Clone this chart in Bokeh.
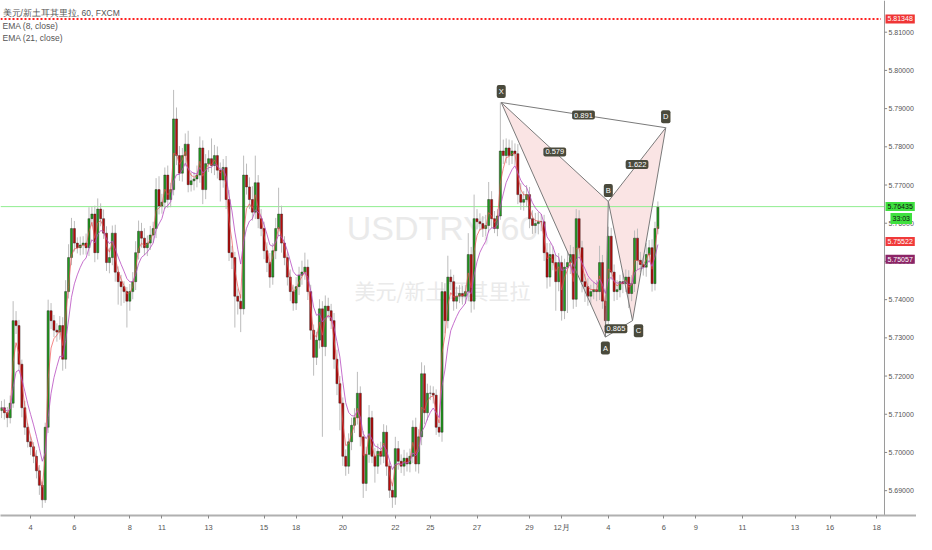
from bokeh.plotting import figure
from bokeh.models import ColumnDataSource, Label, FixedTicker, Range1d
from bokeh.core.properties import value
from bokeh.embed import file_html
from bokeh.resources import INLINE

# ---------------- data ----------------
symbol_title = "美元/新土耳其里拉, 60, FXCM"
ema_titles = ["EMA (8, close)", "EMA (21, close)"]
watermark_main = "USDTRY, 60"
watermark_sub = "美元/新土耳其里拉"

first_open = 5.7110
closes = [
    5.7117, 5.7104, 5.7091, 5.7129, 5.7345, 5.7332, 5.7231, 5.7117, 5.7066, 5.7028, 5.7015, 5.6990, 5.6952, 5.6914, 5.6876,
    5.7066, 5.7371, 5.7345, 5.7320, 5.7315, 5.7332, 5.7244, 5.7421, 5.7510, 5.7586, 5.7548, 5.7536, 5.7543, 5.7548, 5.7536,
    5.7612, 5.7624, 5.7523, 5.7637, 5.7612, 5.7574, 5.7497, 5.7510, 5.7574, 5.7472, 5.7447, 5.7434, 5.7421, 5.7396, 5.7421,
    5.7447, 5.7523, 5.7579, 5.7561, 5.7536, 5.7548, 5.7569, 5.7586, 5.7688, 5.7645, 5.7655, 5.7726, 5.7662, 5.7688, 5.7873,
    5.7777, 5.7731, 5.7777, 5.7807, 5.7701, 5.7711, 5.7716, 5.7726, 5.7797, 5.7688, 5.7756, 5.7769, 5.7751, 5.7777, 5.7739,
    5.7713, 5.7746, 5.7662, 5.7523, 5.7510, 5.7409, 5.7396, 5.7376, 5.7726, 5.7695, 5.7662, 5.7629, 5.7706, 5.7612, 5.7586,
    5.7528, 5.7497, 5.7459, 5.7528, 5.7586, 5.7624, 5.7548, 5.7510, 5.7459, 5.7421, 5.7391, 5.7434, 5.7464, 5.7472, 5.7485,
    5.7421, 5.7320, 5.7249, 5.7294, 5.7376, 5.7277, 5.7383, 5.7371, 5.7345, 5.7244, 5.7180, 5.7129, 5.6990, 5.6964, 5.7028,
    5.7071, 5.7091, 5.7155, 5.7041, 5.6919, 5.6995, 5.7091, 5.6990, 5.6964, 5.7003, 5.6990, 5.7053, 5.6964, 5.6901, 5.6883,
    5.7010, 5.6977, 5.6964, 5.6985, 5.6970, 5.6990, 5.7066, 5.6970, 5.7041, 5.7206, 5.7104, 5.7155, 5.7155, 5.7150, 5.7066,
    5.7053, 5.7421, 5.7345, 5.7459, 5.7447, 5.7396, 5.7409, 5.7416, 5.7409, 5.7421, 5.7518, 5.7396, 5.7612, 5.7604, 5.7599,
    5.7586, 5.7594, 5.7662, 5.7612, 5.7586, 5.7619, 5.7789, 5.7777, 5.7797, 5.7777, 5.7789, 5.7782, 5.7675, 5.7655, 5.7662,
    5.7675, 5.7612, 5.7594, 5.7599, 5.7604, 5.7604, 5.7523, 5.7459, 5.7518, 5.7497, 5.7447, 5.7497, 5.7371, 5.7485, 5.7497,
    5.7518, 5.7401, 5.7612, 5.7536, 5.7447, 5.7434, 5.7409, 5.7421, 5.7426, 5.7421, 5.7497, 5.7396, 5.7345, 5.7566, 5.7472,
    5.7421, 5.7426, 5.7447, 5.7442, 5.7459, 5.7416, 5.7442, 5.7561, 5.7503, 5.7492, 5.7485, 5.7518, 5.7536, 5.7442, 5.7586, 5.7642,
]
upper_wick_pips = [
    18, 22, 15, 20, 51, 25, 15, 12, 18, 10, 14, 12, 16, 15, 10,
    12, 29, 20, 15, 18, 25, 22, 30, 35, 28, 20, 15, 22, 18, 25,
    30, 20, 22, 28, 15, 24, 18, 26, 20, 22, 15, 18, 14, 12, 20,
    25, 30, 28, 22, 26, 20, 24, 18, 30, 35, 22, 20, 25, 18, 76,
    30, 25, 20, 28, 35, 22, 18, 25, 30, 20, 25, 22, 53, 28, 24,
    20, 22, 30, 25, 18, 15, 20, 18, 51, 30, 25, 35, 71, 20, 25,
    18, 22, 25, 20, 28, 69, 22, 18, 15, 20, 18, 25, 22, 30, 38,
    20, 18, 15, 22, 25, 20, 28, 22, 18, 20, 25, 20, 15, 18, 22,
    20, 25, 56, 18, 15, 20, 33, 18, 22, 20, 25, 21, 18, 15, 20,
    31, 20, 18, 22, 15, 20, 18, 25, 20, 30, 22, 25, 20, 18, 15,
    20, 25, 22, 56, 20, 18, 25, 22, 20, 18, 56, 20, 63, 25, 22,
    20, 28, 46, 22, 20, 18, 127, 30, 25, 22, 28, 20, 25, 30, 22,
    25, 20, 22, 28, 25, 20, 18, 25, 30, 22, 20, 25, 18, 22, 30,
    25, 20, 25, 22, 18, 20, 22, 18, 20, 25, 44, 20, 18, 25, 22,
    20, 25, 18, 22, 20, 18, 22, 20, 25, 22, 18, 30, 20, 22, 18, 15,
]
lower_wick_pips = [
    20, 18, 25, 15, 12, 22, 18, 25, 20, 15, 22, 18, 20, 25, 21,
    8, 15, 22, 18, 25, 20, 30, 25, 18, 20, 22, 15, 20, 25, 18,
    22, 20, 25, 18, 20, 15, 22, 28, 20, 25, 60, 50, 30, 69, 25,
    20, 22, 18, 25, 20, 22, 18, 20, 25, 22, 20, 18, 22, 20, 15,
    25, 20, 22, 28, 20, 18, 25, 22, 20, 38, 25, 22, 20, 25, 22,
    56, 20, 25, 22, 30, 82, 35, 61, 15, 20, 25, 22, 18, 25, 20,
    22, 25, 28, 20, 22, 18, 25, 20, 22, 25, 20, 18, 22, 25, 20,
    22, 25, 48, 20, 22, 236, 25, 20, 22, 25, 30, 71, 25, 25, 20,
    22, 20, 18, 25, 38, 20, 22, 18, 43, 20, 22, 18, 25, 20, 28,
    20, 22, 18, 25, 20, 22, 18, 20, 25, 22, 30, 20, 18, 22, 20,
    12, 25, 33, 20, 22, 25, 20, 18, 22, 20, 25, 30, 22, 20, 18,
    22, 20, 18, 25, 12, 20, 10, 22, 20, 25, 22, 30, 25, 20, 22,
    20, 25, 22, 20, 28, 25, 22, 30, 25, 20, 76, 25, 26, 22, 120,
    30, 25, 20, 22, 28, 40, 25, 22, 20, 25, 22, 20, 25, 22, 20,
    25, 22, 20, 25, 22, 38, 20, 22, 25, 20, 22, 25, 20, 21, 18, 15,
]

price_ticks = [5.69, 5.70, 5.71, 5.72, 5.73, 5.74, 5.75, 5.76, 5.77, 5.78, 5.79, 5.80, 5.81]
day_tick_bars = [10, 25, 44, 55, 71, 90, 101, 117, 135, 147, 163, 181, 192, 208, 227, 238, 254, 272, 284, 300]
day_tick_labels = ["4", "6", "8", "11", "13", "15", "18", "20", "22", "25",
                   "27", "29", "12月", "4", "6", "9", "11", "13", "16", "18"]

alert_price = 5.81348
last_price = 5.76435
countdown = "33:03"
ema8_last = 5.75522
ema21_last = 5.75057
ema_periods = [8, 21]
hours_per_candle = 3

pattern_names = ["X", "A", "B", "C", "D"]
pattern_bars = [171.3, 207.0, 208.0, 216.3, 227.7]
pattern_prices = [5.7916, 5.7302, 5.7657, 5.7345, 5.7850]
pattern_label_dx = [0, 0, 0, 6, 0]
pattern_label_dy = [11, -11, 11, -10, 11]
ratio_texts = ["0.891", "0.579", "1.622", "0.865"]
ratio_pairs = [(0, 4), (0, 2), (2, 4), (1, 3)]
ratio_label_dx = [0, 0, 0, -3]
pattern_edges = [(0, 1), (1, 2), (0, 2), (2, 3), (3, 4), (2, 4), (0, 4), (1, 3)]

x_start, x_end = -0.33, 313.64
price_scale_x = 302.67          # bar position of the price-scale line
y_start, y_end = 5.6835, 5.8183

FONT = "Liberation Sans"

# ---------------- derived ----------------
n = len(closes)
opens = [first_open] + closes[:-1]
xs = list(range(n))
highs = [max(o, c) + u / 10000.0 for o, c, u in zip(opens, closes, upper_wick_pips)]
lows = [min(o, c) - d / 10000.0 for o, c, d in zip(opens, closes, lower_wick_pips)]
tops = [max(o, c) for o, c in zip(opens, closes)]
bots = [min(o, c) for o, c in zip(opens, closes)]
cols = ["#1e9e1e" if c >= o else "#b80c0c" for o, c in zip(opens, closes)]


def ema(vals, period):
    a = 1 - (1 - 2.0 / (period + 1)) ** hours_per_candle
    out, e = [], vals[0]
    for v in vals:
        e = e + a * (v - e)
        out.append(e)
    return out


ema_fast = ema(closes, ema_periods[0])
ema_slow = ema(closes, ema_periods[1])

src = ColumnDataSource(dict(x=xs, high=highs, low=lows, top=tops, bottom=bots, color=cols))

p = figure(width=916, height=534, x_range=Range1d(x_start, x_end), y_range=Range1d(y_start, y_end),
           output_backend="svg", toolbar_location=None, y_axis_location=None,
           min_border_left=0, min_border_top=0, min_border_right=0, min_border_bottom=0)
p.outline_line_color = None
p.grid.visible = False
p.background_fill_color = "white"
p.border_fill_color = "white"

# time axis
p.xaxis.ticker = FixedTicker(ticks=day_tick_bars)
p.xaxis.major_label_overrides = {b: t for b, t in zip(day_tick_bars, day_tick_labels)}
p.xaxis.major_label_text_font = FONT
p.xaxis.major_label_text_font_size = "7.5px"
p.xaxis.major_label_text_color = "#555555"
p.xaxis.major_tick_in = 0
p.xaxis.major_tick_out = 3
p.xaxis.minor_tick_out = 0
p.xaxis.minor_tick_in = 0
p.xaxis.major_tick_line_color = "#888888"
p.xaxis.major_label_standoff = 4
p.xaxis.axis_line_color = "#b0b0b0"
p.xaxis.axis_line_width = 2

# watermark
xm = (x_start + price_scale_x) / 2.0
ym = (y_start + y_end) / 2.0
p.add_layout(Label(x=xm, y=ym, y_offset=30, text=watermark_main, text_align="center",
                   text_baseline="middle", text_font=FONT, text_font_size="34px",
                   text_color="#eaeaea", level="underlay"))
p.add_layout(Label(x=xm, y=ym, y_offset=-32, text=watermark_sub, text_align="center",
                   text_baseline="middle", text_font="Noto Sans CJK SC", text_font_size="21px",
                   text_color="#eaeaea", level="underlay"))

# pattern fill (behind candles)
for tri in ([0, 1, 2], [2, 3, 4]):
    p.patch([pattern_bars[k] for k in tri], [pattern_prices[k] for k in tri],
            fill_color="#f4c4c4", fill_alpha=0.45, line_color=None)

# horizontal price lines (stop at the price scale)
p.segment(x0=[x_start], y0=[last_price], x1=[price_scale_x], y1=[last_price],
          line_color="#90ee90", line_width=1)
p.segment(x0=[x_start], y0=[alert_price], x1=[price_scale_x - 1.2], y1=[alert_price],
          line_color="#ff1f1f", line_width=2, line_dash="2 2")

# candles
p.segment(x0="x", y0="low", x1="x", y1="high", source=src, line_color="#bcbcbc", line_width=1)
p.vbar(x="x", width=0.72, top="top", bottom="bottom", fill_color="color",
       line_color="#2a2020", line_width=0.45, source=src)

# EMAs
p.line(xs, ema_fast, line_color="#ee4c4c", line_alpha=0.75, line_width=0.9)
p.line(xs, ema_slow, line_color="#b84cc0", line_alpha=0.8, line_width=1)

# pattern lines
p.multi_line([[pattern_bars[a], pattern_bars[b]] for a, b in pattern_edges],
             [[pattern_prices[a], pattern_prices[b]] for a, b in pattern_edges],
             line_color="#7a7a7a", line_width=1)

lab_bg = "#4a4a3c"
for name, bx, py, dx, dy in zip(pattern_names, pattern_bars, pattern_prices,
                                pattern_label_dx, pattern_label_dy):
    p.add_layout(Label(x=bx, y=py, x_offset=dx, y_offset=dy, text=name, text_align="center",
                       text_baseline="middle", text_font=FONT, text_font_size="7.5px",
                       text_color="white", background_fill_color=lab_bg, background_fill_alpha=1,
                       padding=2, border_radius=2))
for txt, (a, b), dx in zip(ratio_texts, ratio_pairs, ratio_label_dx):
    mx = (pattern_bars[a] + pattern_bars[b]) / 2.0
    my = (pattern_prices[a] + pattern_prices[b]) / 2.0
    p.add_layout(Label(x=mx, y=my, x_offset=dx, text=txt, text_align="center",
                       text_baseline="middle", text_font=FONT, text_font_size="7.5px",
                       text_color="white", background_fill_color=lab_bg,
                       background_fill_alpha=1, padding=2, border_radius=2))

# legend text
p.add_layout(Label(x=x_start, y=y_end, x_offset=2, y_offset=-12, text=symbol_title,
                   text_font=FONT, text_font_size="8.5px", text_color="#555555",
                   text_baseline="middle"))
for k, t in enumerate(ema_titles):
    p.add_layout(Label(x=x_start, y=y_end, x_offset=2, y_offset=-25 - 12 * k, text=t,
                       text_font=FONT, text_font_size="8.5px", text_color="#555555",
                       text_baseline="middle"))

# price scale (right side)
p.segment(x0=[price_scale_x], y0=[y_start], x1=[price_scale_x], y1=[y_end],
          line_color="#9a9a9a", line_width=1)
p.segment(x0=[price_scale_x] * len(price_ticks), y0=price_ticks,
          x1=[price_scale_x + 0.9] * len(price_ticks), y1=price_ticks,
          line_color="#888888", line_width=1)
p.text(x=[price_scale_x] * len(price_ticks), y=price_ticks,
       text=["%.5f" % t for t in price_ticks], x_offset=4, text_align="left",
       text_baseline="middle", text_font=value(FONT), text_font_size="7px",
       text_color="#555555")

# price tags
tags = [
    (alert_price, "%.5f" % alert_price, "#ef3535", "white"),
    (last_price, "%.5f" % last_price, "#3fe03f", "#111111"),
    (ema8_last, "%.5f" % ema8_last, "#f03a3a", "white"),
    (ema21_last, "%.5f" % ema21_last, "#8c2466", "white"),
]
for price, txt, bg, fg in tags:
    p.add_layout(Label(x=price_scale_x, y=price, x_offset=1, text=txt, text_align="left",
                       text_baseline="middle", text_font=FONT, text_font_size="7px",
                       text_color=fg, background_fill_color=bg, background_fill_alpha=1,
                       padding=2))
p.add_layout(Label(x=price_scale_x, y=last_price, x_offset=6, y_offset=-12, text=countdown,
                   text_align="left", text_baseline="middle", text_font=FONT,
                   text_font_size="7px", text_color="#111111", background_fill_color="#3fe03f",
                   background_fill_alpha=1, padding=2))

open("out.html", "w").write(file_html(p, INLINE))
